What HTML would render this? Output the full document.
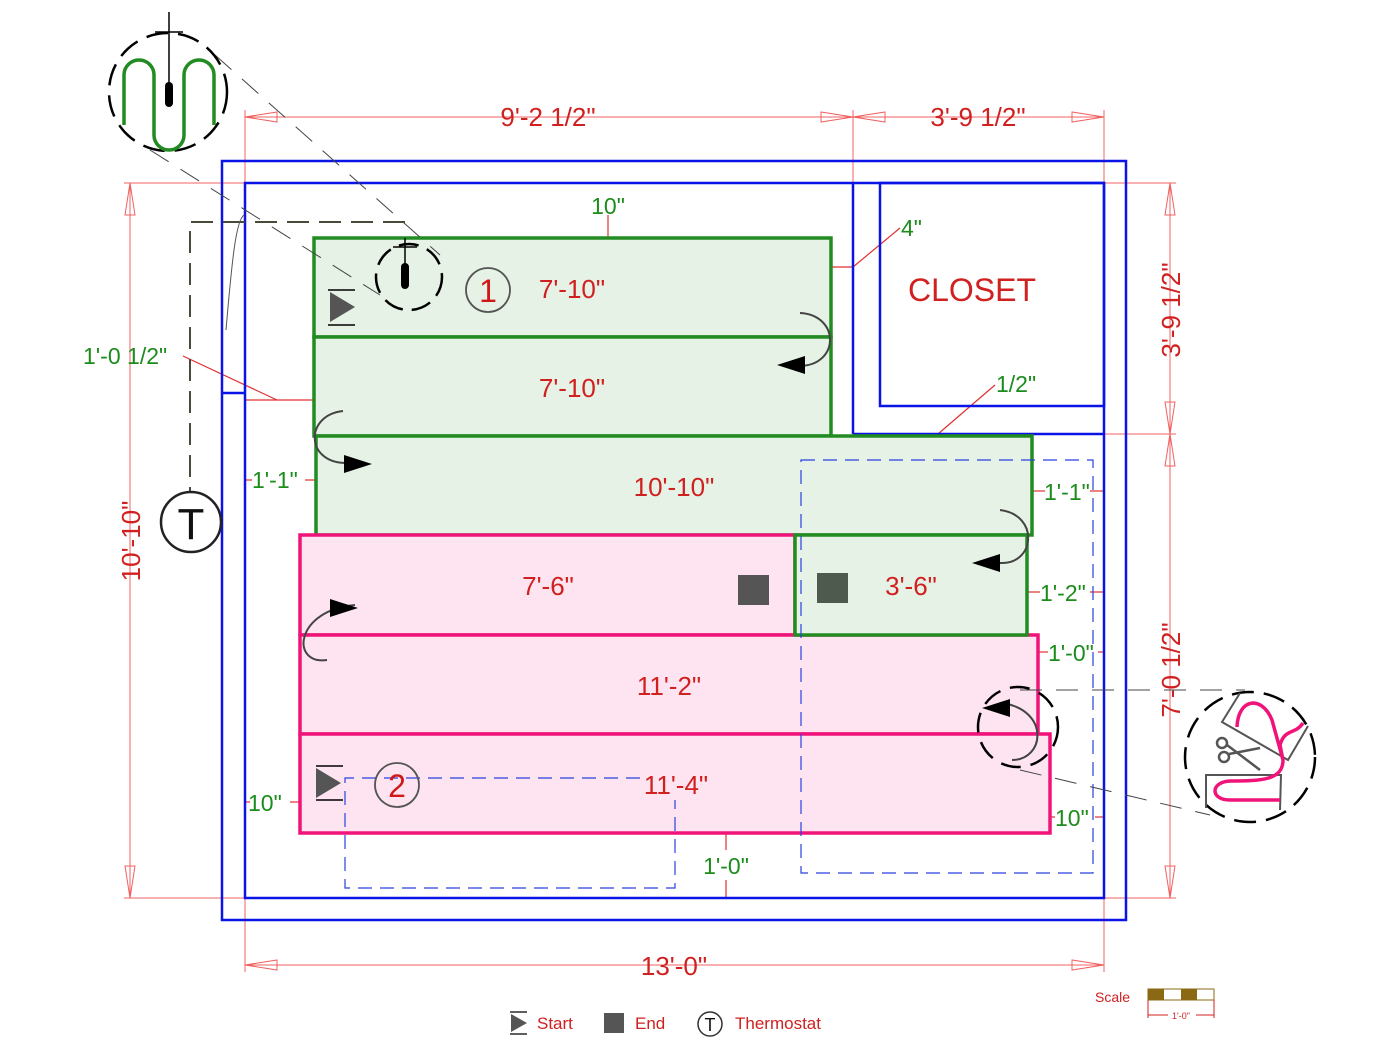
<!DOCTYPE html>
<html><head><meta charset="utf-8"><style>
html,body{margin:0;padding:0;background:#fff;}
svg{display:block;}
text{font-family:"Liberation Sans",sans-serif;}
</style></head><body>
<svg width="1400" height="1049" viewBox="0 0 1400 1049" xmlns="http://www.w3.org/2000/svg">
<!-- dimension lines -->
<g stroke="#f06060" stroke-width="1" fill="none">
<line x1="245" y1="117" x2="1104" y2="117"/>
<line x1="245" y1="110" x2="245" y2="183"/>
<line x1="853" y1="110" x2="853" y2="183"/>
<line x1="1104" y1="110" x2="1104" y2="183"/>
<path d="M245,117 l32,-5 v10 z M853,117 l-32,-5 v10 z M853,117 l32,-5 v10 z M1104,117 l-32,-5 v10 z"/>
<line x1="130" y1="183" x2="130" y2="898"/>
<line x1="124" y1="183" x2="245" y2="183"/>
<line x1="124" y1="898" x2="245" y2="898"/>
<path d="M130,183 l-5,32 h10 z M130,898 l-5,-32 h10 z"/>
<line x1="1170" y1="183" x2="1170" y2="898"/>
<line x1="1104" y1="183" x2="1176" y2="183"/>
<line x1="1104" y1="434" x2="1176" y2="434"/>
<line x1="1104" y1="898" x2="1176" y2="898"/>
<path d="M1170,183 l-5,32 h10 z M1170,434 l-5,-32 h10 z M1170,434 l-5,32 h10 z M1170,898 l-5,-32 h10 z"/>
<line x1="245" y1="965" x2="1104" y2="965"/>
<line x1="245" y1="898" x2="245" y2="972"/>
<line x1="1104" y1="898" x2="1104" y2="972"/>
<path d="M245,965 l32,-5 v10 z M1104,965 l-32,-5 v10 z"/>
</g>
<g stroke="#e03030" stroke-width="1.2" fill="none">
<line x1="608" y1="215" x2="608" y2="238"/>
<line x1="831" y1="267" x2="853" y2="267"/><line x1="853" y1="267" x2="900" y2="228"/>
<line x1="245" y1="400" x2="314" y2="400"/><line x1="277" y1="400" x2="183" y2="356"/>
<line x1="938" y1="434" x2="995" y2="385"/>
<line x1="245" y1="480" x2="252" y2="480"/><line x1="305" y1="480" x2="316" y2="480"/>
<line x1="1032" y1="491" x2="1045" y2="491"/><line x1="1090" y1="491" x2="1104" y2="491"/>
<line x1="1027" y1="592" x2="1040" y2="592"/><line x1="1090" y1="592" x2="1104" y2="592"/>
<line x1="1038" y1="652" x2="1048" y2="652"/><line x1="1098" y1="652" x2="1104" y2="652"/>
<line x1="245" y1="802" x2="250" y2="802"/><line x1="290" y1="802" x2="300" y2="802"/>
<line x1="1050" y1="817" x2="1055" y2="817"/><line x1="1095" y1="817" x2="1104" y2="817"/>
<line x1="726" y1="833" x2="726" y2="850"/><line x1="726" y1="880" x2="726" y2="898"/>
</g>
<!-- walls -->
<g stroke="#0a14e6" stroke-width="2.5" fill="none">
<rect x="222" y="161" width="904" height="759"/>
<rect x="245" y="183" width="859" height="715"/>
<line x1="853" y1="183" x2="853" y2="434"/>
<line x1="853" y1="434" x2="1104" y2="434"/>
<rect x="880" y="183" width="224" height="223"/>
<line x1="222" y1="393" x2="245" y2="393"/>
</g>
<!-- mats -->
<g stroke-width="3.5">
<rect x="314" y="238" width="517" height="99" fill="#e5f2e5" stroke="#228b22"/>
<rect x="314" y="337" width="517" height="99" fill="#e5f2e5" stroke="#228b22"/>
<rect x="316" y="436" width="716" height="99" fill="#e5f2e5" stroke="#228b22"/>
<rect x="300" y="535" width="495" height="100" fill="#fde4f0" stroke="#f0147a"/>
<rect x="300" y="635" width="738" height="99" fill="#fde4f0" stroke="#f0147a"/>
<rect x="300" y="734" width="750" height="99" fill="#fde4f0" stroke="#f0147a"/>
<rect x="795" y="535" width="232" height="100" fill="#e5f2e5" stroke="#228b22"/>
</g>
<!-- blue dashed -->
<g stroke="#2a40e0" stroke-width="1.2" fill="none" stroke-dasharray="14,8">
<rect x="801" y="460" width="292" height="413"/>
<polyline points="640,778 345,778 345,888 675,888 675,800"/>
</g>
<!-- thermostat wire dashed -->
<g stroke="#4a4a3a" stroke-width="2" fill="none" stroke-dasharray="22,10">
<polyline points="405,222 190,222 190,500"/>
</g>
<path d="M244,215 C236,220 232,260 226,330" stroke="#555" stroke-width="1" fill="none"/>
<!-- detail callout lines -->
<g stroke="#444" stroke-width="1" fill="none" stroke-dasharray="22,14">
<line x1="215" y1="55" x2="440" y2="255"/>
<line x1="150" y1="150" x2="380" y2="295"/>
<line x1="1020" y1="690" x2="1245" y2="690"/>
<line x1="1020" y1="770" x2="1210" y2="815"/>
</g>
<!-- top-left detail circle -->
<circle cx="168" cy="92" r="59" fill="none" stroke="#000" stroke-width="2.5" stroke-dasharray="22,10"/>
<path d="M124,125 V75 a15,15 0 0 1 30,0 v60 a15,15 0 0 0 30,0 V75 a15,15 0 0 1 30,0 V125" fill="none" stroke="#228b22" stroke-width="3.5"/>
<line x1="169" y1="12" x2="169" y2="100" stroke="#000" stroke-width="1.5"/>
<line x1="155" y1="32" x2="183" y2="32" stroke="#000" stroke-width="1.5"/>
<rect x="165" y="82" width="8" height="25" rx="4" fill="#000"/>
<!-- small sensor circle -->
<circle cx="409" cy="277" r="33" fill="none" stroke="#000" stroke-width="2.5" stroke-dasharray="20,9"/>
<line x1="405" y1="238" x2="405" y2="275" stroke="#000" stroke-width="1.5"/>
<line x1="393" y1="247" x2="417" y2="247" stroke="#000" stroke-width="1.5"/>
<rect x="401" y="263" width="8" height="26" rx="4" fill="#000"/>
<!-- start markers -->
<g fill="#555"><path d="M330,292 L355,307 L330,322 z"/><path d="M316,768 L341,783 L316,798 z"/></g>
<g stroke="#000" stroke-width="1.5"><line x1="328" y1="290" x2="355" y2="290"/><line x1="328" y1="325" x2="355" y2="325"/>
<line x1="316" y1="766" x2="343" y2="766"/><line x1="316" y1="800" x2="343" y2="800"/></g>
<!-- end squares -->
<rect x="738" y="575" width="31" height="30" fill="#555"/>
<rect x="817" y="573" width="31" height="30" fill="#4d5a4d"/>
<!-- zone numbers -->
<circle cx="488" cy="290" r="22" fill="none" stroke="#555" stroke-width="1.8"/>
<text x="488" y="302" font-size="32" fill="#d01818" text-anchor="middle">1</text>
<circle cx="397" cy="785" r="22" fill="none" stroke="#555" stroke-width="1.8"/>
<text x="397" y="797" font-size="32" fill="#d01818" text-anchor="middle">2</text>
<!-- turn arrows -->
<g stroke="#444" stroke-width="2" fill="none">
<path d="M800,313 C840,315 840,365 800,366"/>
<path d="M343,411 C305,415 305,462 345,463"/>
<path d="M1000,510 C1040,515 1035,565 1000,563"/>
<path d="M355,605 C295,610 290,665 327,660"/>
<path d="M1002,703 C1050,710 1045,760 1012,760"/>
</g>
<g fill="#000">
<path d="M777,365 l28,-9 v18 z"/>
<path d="M372,464 l-28,-9 v18 z"/>
<path d="M972,563 l28,-9 v18 z"/>
<path d="M358,608 l-28,-9 v18 z"/>
<path d="M982,708 l28,-9 v18 z"/>
</g>
<circle cx="1018" cy="727" r="40" fill="none" stroke="#000" stroke-width="2.5" stroke-dasharray="20,10"/>
<!-- right detail circle -->
<circle cx="1250" cy="757" r="65" fill="none" stroke="#000" stroke-width="2.5" stroke-dasharray="22,10"/>
<g stroke="#555" stroke-width="2" fill="none">
<polyline points="1240,693 1222,722 1288,760 1308,726"/>
<polyline points="1280,810 1281,775 1206,775 1206,808"/>
</g>
<path d="M1303,723 C1295,735 1285,728 1280,745 L1283,760 M1237,727 C1238,698 1262,695 1272,720 L1283,760 C1283,780 1262,781 1230,781 C1210,782 1210,800 1230,800 L1280,800" fill="none" stroke="#f0147a" stroke-width="3.5"/>
<g stroke="#555" stroke-width="2.5" fill="none">
<circle cx="1222" cy="743" r="5"/><circle cx="1224" cy="757" r="5"/>
<line x1="1227" y1="745" x2="1260" y2="770"/><line x1="1229" y1="754" x2="1260" y2="748"/>
</g>
<!-- thermostat -->
<circle cx="191" cy="522" r="30" fill="#fff" stroke="#222" stroke-width="2.5"/>
<text x="191" y="539" font-size="44" fill="#111" text-anchor="middle">T</text>
<!-- labels -->
<g font-size="26" fill="#d02020" text-anchor="middle">
<text x="548" y="126">9'-2 1/2"</text>
<text x="978" y="126">3'-9 1/2"</text>
<text x="674" y="975">13'-0"</text>
<text x="572" y="298">7'-10"</text>
<text x="572" y="397">7'-10"</text>
<text x="674" y="496">10'-10"</text>
<text x="548" y="595">7'-6"</text>
<text x="911" y="595">3'-6"</text>
<text x="669" y="695">11'-2"</text>
<text x="676" y="794">11'-4"</text>
<text x="972" y="301" font-size="32">CLOSET</text>
<text transform="translate(140,541) rotate(-90)">10'-10"</text>
<text transform="translate(1180,310) rotate(-90)">3'-9 1/2"</text>
<text transform="translate(1180,670) rotate(-90)">7'-0 1/2"</text>
</g>
<g font-size="23" fill="#1c8c1c">
<text x="608" y="214" text-anchor="middle">10"</text>
<text x="901" y="236">4"</text>
<text x="83" y="364">1'-0 1/2"</text>
<text x="996" y="392">1/2"</text>
<text x="252" y="488">1'-1"</text>
<text x="1044" y="500">1'-1"</text>
<text x="1040" y="601">1'-2"</text>
<text x="1048" y="661">1'-0"</text>
<text x="248" y="811">10"</text>
<text x="1055" y="826">10"</text>
<text x="726" y="874" text-anchor="middle">1'-0"</text>
</g>
<!-- legend -->
<path d="M511,1014 l16,9 l-16,9 z" fill="#555"/>
<line x1="510" y1="1012" x2="527" y2="1012" stroke="#000" stroke-width="1.2"/>
<line x1="510" y1="1034" x2="527" y2="1034" stroke="#000" stroke-width="1.2"/>
<text x="537" y="1029" font-size="17" fill="#d02020">Start</text>
<rect x="604" y="1013" width="20" height="20" fill="#555"/>
<text x="635" y="1029" font-size="17" fill="#d02020">End</text>
<circle cx="710" cy="1024" r="12" fill="none" stroke="#333" stroke-width="1.5"/>
<text x="710" y="1031" font-size="18" fill="#111" text-anchor="middle">T</text>
<text x="735" y="1029" font-size="17" fill="#d02020">Thermostat</text>
<text x="1095" y="1002" font-size="14" fill="#d02020">Scale</text>
<rect x="1148" y="989" width="66" height="11" fill="#fff" stroke="#8b6914" stroke-width="1"/>
<rect x="1148" y="989" width="16" height="11" fill="#8b6914"/>
<rect x="1181" y="989" width="16" height="11" fill="#8b6914"/>
<g stroke="#d02020" stroke-width="1" fill="none"><line x1="1148" y1="1000" x2="1148" y2="1018"/><line x1="1214" y1="1000" x2="1214" y2="1018"/><line x1="1148" y1="1015" x2="1168" y2="1015"/><line x1="1196" y1="1015" x2="1214" y2="1015"/></g>
<text x="1181" y="1019" font-size="9" fill="#d02020" text-anchor="middle">1'-0"</text>
</svg>
</body></html>
